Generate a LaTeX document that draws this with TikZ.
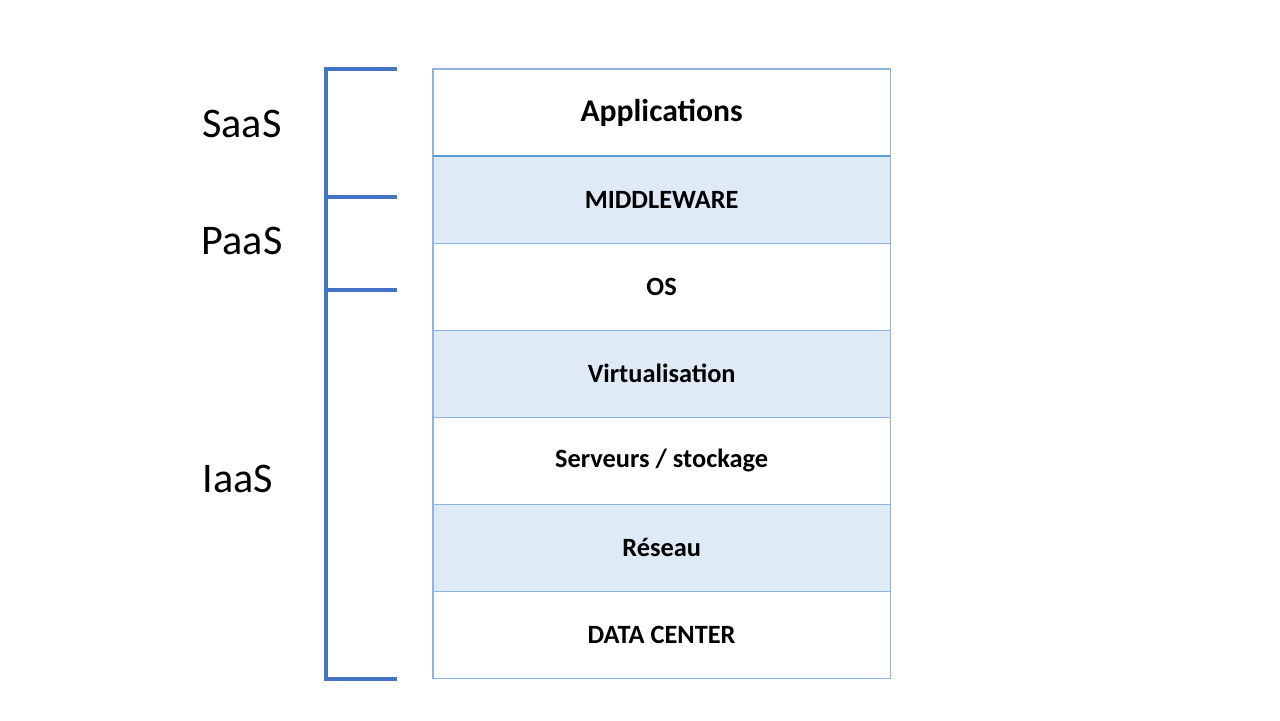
\documentclass[tikz,border=0pt]{standalone}
\usepackage{fontspec}
\setmainfont{Carlito}
\usetikzlibrary{positioning}
\definecolor{bracketblue}{HTML}{4472C4}
\definecolor{rowline}{HTML}{8DB4E2}
\definecolor{topline}{HTML}{5B9BD5}
\definecolor{rowfill}{HTML}{DEEAF6}
\tikzset{
  layer/.style={draw=rowline, line width=0.3pt, minimum width=4.57cm, minimum height=0.87cm,
    inner sep=0pt, outer sep=0pt, font=\fontsize{7.5}{9}\selectfont\bfseries},
  shaded/.style={layer, fill=rowfill},
  tier/.style={font=\fontsize{12}{14}\selectfont}
}

\begin{document}
\begin{tikzpicture}[x=0.01cm,y=-0.01cm]
  \useasboundingbox (0,0) rectangle (1280,720);
  % stack of layers
  \node[layer, anchor=north west, font=\fontsize{9}{11}\selectfont\bfseries] (apps) at (433,69) {Applications};
  \node[shaded, below=0pt of apps] (middleware) {MIDDLEWARE};
  \node[layer, below=0pt of middleware] (os) {OS};
  \node[shaded, below=0pt of os] (virt) {Virtualisation};
  \node[layer, below=0pt of virt] (servers) {Serveurs / stockage};
  \node[shaded, below=0pt of servers] (network) {Réseau};
  \node[layer, below=0pt of network] (datacenter) {DATA CENTER};
  \draw[topline, line width=0.6pt] (apps.south west) -- (apps.south east);
  % bracket
  \draw[bracketblue, line width=1.15pt] (397,69) -- (326,69) -- (326,679) -- (397,679);
  \foreach \y in {197,290} \draw[bracketblue, line width=1.15pt] (326,\y) -- (397,\y);
  % service models
  \node[tier] (saas) at (242,124) {SaaS};
  \node[tier] (paas) at (242,241) {PaaS};
  \node[tier] (iaas) at (238,479) {IaaS};
\end{tikzpicture}
\end{document}
